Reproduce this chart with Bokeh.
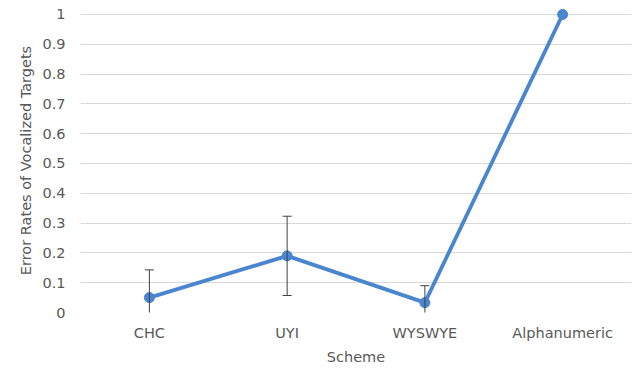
from bokeh.plotting import figure
from bokeh.models import (ColumnDataSource, FactorRange, Range1d, FixedTicker,
                          CustomJSTickFormatter, Whisker, TeeHead)
from bokeh.embed import file_html
from bokeh.resources import INLINE

# ---- data ----
schemes = ["CHC", "UYI", "WYSWYE", "Alphanumeric"]
error_rates = [0.05, 0.19, 0.033, 1.0]
error_sd = [0.093, 0.133, 0.057, 0.0]
y_ticks = [0, 0.1, 0.2, 0.3, 0.4, 0.5, 0.6, 0.7, 0.8, 0.9, 1.0]

FONT = "DejaVu Sans"
TXT = "#595959"
BLUE = "#4a86cf"

p = figure(width=639, height=385, output_backend="svg", toolbar_location=None,
           x_range=FactorRange(factors=schemes, range_padding=0),
           y_range=Range1d(0, 1.02),
           min_border_left=80, min_border_right=8, min_border_top=8,
           min_border_bottom=73)
p.outline_line_color = None
p.background_fill_color = "white"
p.border_fill_color = "white"

src = ColumnDataSource(dict(x=schemes, y=error_rates))
eb_x = [s for s, e in zip(schemes, error_sd) if e > 0]
eb_up = [m + e for m, e in zip(error_rates, error_sd) if e > 0]
eb_lo = [m - e for m, e in zip(error_rates, error_sd) if e > 0]
ebsrc = ColumnDataSource(dict(x=eb_x, upper=eb_up, lower=eb_lo))

wh = Whisker(source=ebsrc, base="x", upper="upper", lower="lower",
             line_color="#404040", line_width=1,
             upper_head=TeeHead(size=9, line_color="#404040", line_width=1),
             lower_head=TeeHead(size=9, line_color="#404040", line_width=1))
wh.level = "glyph"
p.add_layout(wh)

p.line("x", "y", source=src, line_color=BLUE, line_width=3.8)
p.scatter("x", "y", source=src, size=10, fill_color=BLUE, line_color=BLUE)

# y axis
p.yaxis.ticker = FixedTicker(ticks=y_ticks)
p.yaxis.formatter = CustomJSTickFormatter(code="return String(Math.round(tick*10)/10);")
p.yaxis.axis_label = "Error Rates of Vocalized Targets"
p.yaxis.major_label_standoff = 15
p.yaxis.axis_label_standoff = 5

for ax in (p.xaxis[0], p.yaxis[0]):
    ax.axis_line_color = None
    ax.major_tick_line_color = None
    ax.minor_tick_line_color = None
    ax.major_tick_in = 0
    ax.major_tick_out = 0
    ax.major_label_text_font = FONT
    ax.major_label_text_font_size = "14.5px"
    ax.major_label_text_color = TXT
    ax.axis_label_text_font = FONT
    ax.axis_label_text_font_size = "14.5px"
    ax.axis_label_text_color = TXT
    ax.axis_label_text_font_style = "normal"

p.xaxis.axis_label = "Scheme"
p.xaxis.major_label_standoff = 12
p.xaxis.axis_label_standoff = 5

p.xgrid.grid_line_color = None
p.ygrid.ticker = FixedTicker(ticks=y_ticks)
p.ygrid.grid_line_color = "#d9d9d9"
p.ygrid.grid_line_width = 1

open("out.html", "w").write(file_html(p, INLINE))
